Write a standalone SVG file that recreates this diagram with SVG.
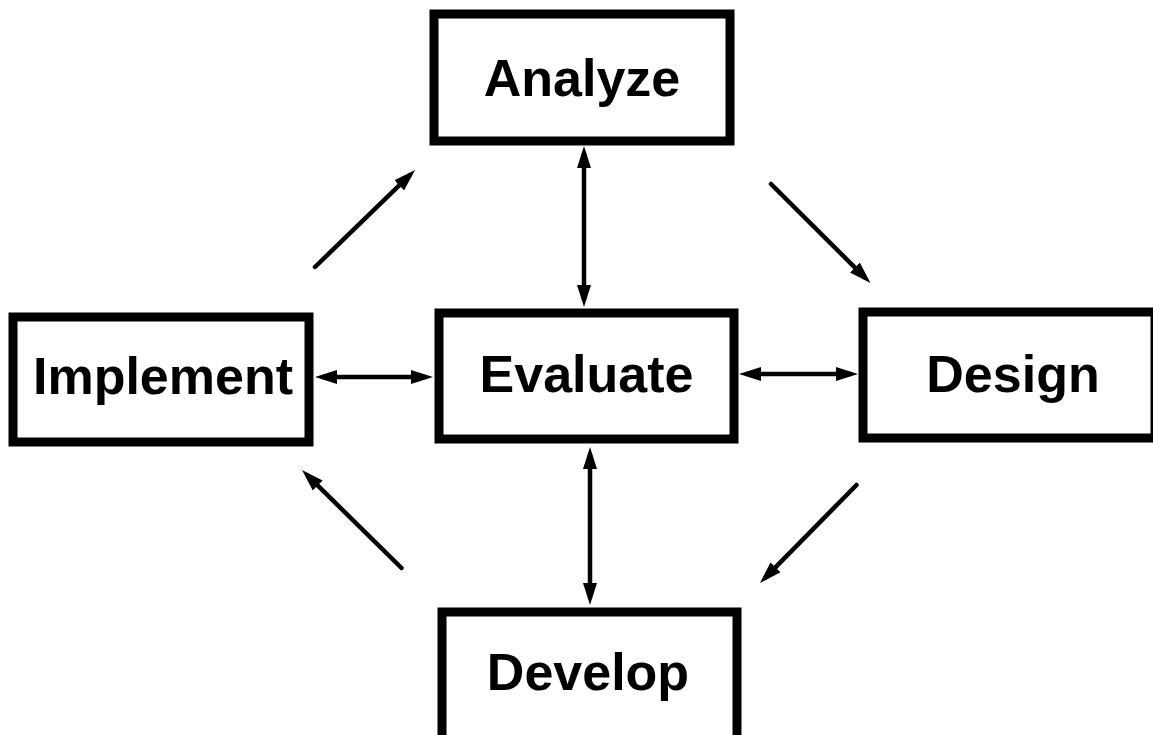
<svg xmlns="http://www.w3.org/2000/svg" width="1153" height="735" viewBox="0 0 1153 735">
<style>
.box{fill:#fff;stroke:#000;stroke-width:9}
.lbl{font-family:"Liberation Sans",Arial,sans-serif;font-weight:bold;font-size:52px;fill:#000;text-anchor:middle}
.c{stroke:#000;stroke-width:4.5;fill:none;stroke-linecap:round}
</style>
<defs>
<marker id="ah" viewBox="0 0 22 14" refX="14" refY="7" markerWidth="22" markerHeight="14" markerUnits="userSpaceOnUse" orient="auto-start-reverse">
<path d="M0,0 L22,7 L0,14 z" fill="#000"/>
</marker>
</defs>
<rect width="1153" height="735" fill="#fff"/>
<g id="connectors">
<line class="c" x1="584" y1="154" x2="584" y2="299" marker-start="url(#ah)" marker-end="url(#ah)"/>
<line class="c" x1="590" y1="455" x2="590" y2="597" marker-start="url(#ah)" marker-end="url(#ah)"/>
<line class="c" x1="323" y1="377" x2="425" y2="377" marker-start="url(#ah)" marker-end="url(#ah)"/>
<line class="c" x1="747" y1="374" x2="850" y2="374" marker-start="url(#ah)" marker-end="url(#ah)"/>
<line class="c" x1="315" y1="267" x2="409.3" y2="175.6" marker-end="url(#ah)"/>
<line class="c" x1="771" y1="184" x2="864.8" y2="277.4" marker-end="url(#ah)"/>
<line class="c" x1="401.5" y1="568" x2="307.7" y2="475.6" marker-end="url(#ah)"/>
<line class="c" x1="856.5" y1="485" x2="765.6" y2="577.3" marker-end="url(#ah)"/>
</g>
<g id="analyze">
<rect class="box" x="434" y="14" width="296" height="127"/>
<text class="lbl" x="582" y="96">Analyze</text>
</g>
<g id="implement">
<rect class="box" x="13" y="317" width="296" height="125"/>
<text class="lbl" x="163" y="394">Implement</text>
</g>
<g id="evaluate">
<rect class="box" x="439" y="313" width="295" height="126"/>
<text class="lbl" x="586.5" y="392">Evaluate</text>
</g>
<g id="design">
<rect class="box" x="863" y="312" width="292" height="126"/>
<text class="lbl" x="1013" y="392">Design</text>
</g>
<g id="develop">
<rect class="box" x="442" y="612" width="295" height="140"/>
<text class="lbl" x="588" y="690">Develop</text>
</g>
</svg>
